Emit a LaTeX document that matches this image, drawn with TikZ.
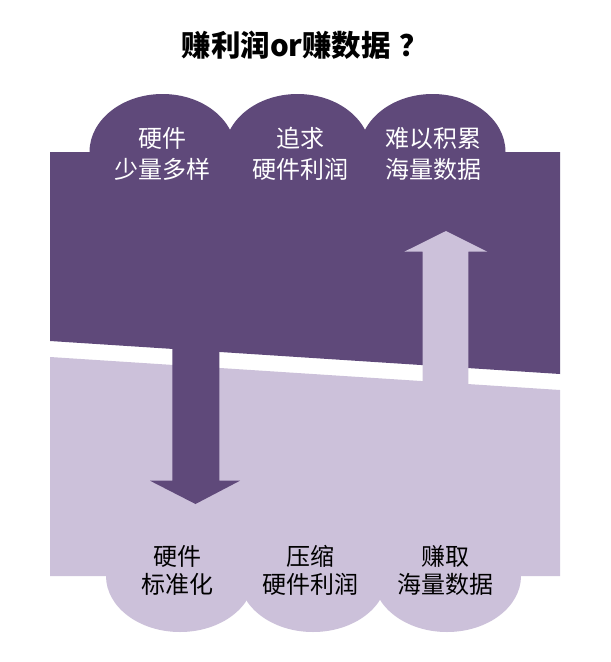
\documentclass[tikz,border=0pt]{standalone}
\usepackage{fontspec}
\newfontfamily\cjk{Noto Sans CJK SC}
\definecolor{darkp}{HTML}{5F497A}
\definecolor{lightp}{HTML}{CCC1DA}
\begin{document}
\begin{tikzpicture}[x=1pt,y=-1pt,
  toplabel/.style={text=white,align=center,font=\cjk\fontsize{24}{31}\selectfont,inner sep=0pt},
  botlabel/.style={text=black,align=center,font=\cjk\fontsize{24}{28}\selectfont,inner sep=0pt},
  titlelabel/.style={text=black,font=\cjk\bfseries\fontsize{29.5}{32}\selectfont,inner sep=0pt}]
\useasboundingbox[fill=white] (0,0) rectangle (611,662);
% light region
\fill[lightp] (50,357) -- (560,390) -- (560,576) -- (50,576) -- cycle;
\fill[lightp] (180,576) ellipse [x radius=74, y radius=56];
\fill[lightp] (313,576) ellipse [x radius=74, y radius=56];
\fill[lightp] (447,576) ellipse [x radius=74, y radius=56];
% dark region
\fill[darkp] (50,152) -- (560,152) -- (560,374) -- (50,341) -- cycle;
\fill[darkp] (162.5,152) ellipse [x radius=73, y radius=58];
\fill[darkp] (297.5,152) ellipse [x radius=73, y radius=58];
\fill[darkp] (432.5,152) ellipse [x radius=73, y radius=58];
% down arrow
\fill[darkp] (172.3,340) -- (219.3,340) -- (219.3,480.7) -- (240,480.7) -- (195.5,504) -- (150,480.7) -- (172.3,480.7) -- cycle;
% up arrow
\fill[lightp] (422.7,395) -- (422.7,251.7) -- (404.3,251.7) -- (446,231) -- (487.3,251.7) -- (468.3,251.7) -- (468.3,395) -- cycle;
% title
\node[titlelabel] (title) at (305.5,45) {赚利润or赚数据\hspace{9pt}？};
% top labels
\node[toplabel] (t1) at (162.5,153.5) {硬件\\少量多样};
\node[toplabel] (t2) at (300,153.5) {追求\\硬件利润};
\node[toplabel] (t3) at (433.5,153.5) {难以积累\\海量数据};
% bottom labels
\node[botlabel] (b1) at (177,570) {硬件\\标准化};
\node[botlabel] (b2) at (310,570) {压缩\\硬件利润};
\node[botlabel] (b3) at (445,570) {赚取\\海量数据};
\end{tikzpicture}
\end{document}
